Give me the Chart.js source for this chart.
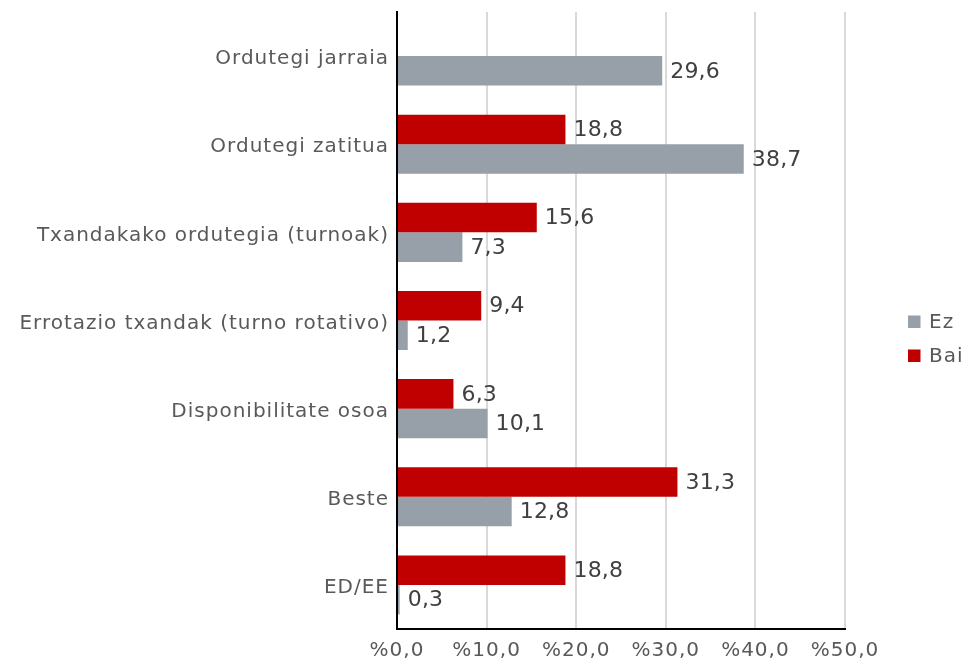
<!DOCTYPE html>
<html>
<head>
<meta charset="utf-8">
<script src="https://cdn.jsdelivr.net/npm/chart.js@4/dist/chart.umd.min.js"></script>
<style>
  html, body { margin: 0; padding: 0; background: #ffffff; }
  #wrap { width: 968px; height: 661px; }
</style>
</head>
<body>
<div id="wrap"><canvas id="c" width="968" height="661"></canvas></div>
<script>
const categories = [
  'Ordutegi jarraia',
  'Ordutegi zatitua',
  'Txandakako ordutegia (turnoak)',
  'Errotazio txandak (turno rotativo)',
  'Disponibilitate osoa',
  'Beste',
  'ED/EE'
];
const baiValues = [null, 18.8, 15.6, 9.4, 6.3, 31.3, 18.8];
const ezValues  = [29.6, 38.7, 7.3, 1.2, 10.1, 12.8, 0.3];
const xTickLabels = ['%0,0', '%10,0', '%20,0', '%30,0', '%40,0', '%50,0'];
const seriesNames = ['Bai', 'Ez'];
const legendOrder = ['Ez', 'Bai'];

const FONT = "'DejaVu Sans', sans-serif";
const RED = '#C00000';
const GRAY = '#979FA8';

function fmt(v) { return v.toFixed(1).replace('.', ','); }

function setSpacing(chart, px) {
  if ('letterSpacing' in chart.ctx) chart.ctx.letterSpacing = (px === undefined ? 1 : px) + 'px';
}

const spacingPlugin = {
  id: 'spacing',
  beforeUpdate: (c) => setSpacing(c),
  beforeLayout: (c) => setSpacing(c),
  beforeDraw: (c) => setSpacing(c)
};

const valueLabels = {
  id: 'valueLabels',
  afterDatasetsDraw(chart) {
    const ctx = chart.ctx;
    ctx.save();
    setSpacing(chart, 0.2);
    ctx.font = '22px ' + FONT;
    ctx.fillStyle = '#404040';
    ctx.textAlign = 'left';
    ctx.textBaseline = 'middle';
    chart.data.datasets.forEach((ds, di) => {
      const meta = chart.getDatasetMeta(di);
      meta.data.forEach((el, i) => {
        const v = ds.data[i];
        if (v === null || v === undefined) return;
        ctx.fillText(fmt(v), el.x + 8, el.y + 1);
      });
    });
    ctx.restore();
  }
};

const sideLegend = {
  id: 'sideLegend',
  afterDraw(chart) {
    const ctx = chart.ctx;
    const area = chart.chartArea;
    ctx.save();
    setSpacing(chart);
    ctx.font = '20px ' + FONT;
    ctx.textAlign = 'left';
    ctx.textBaseline = 'middle';
    const cy = (area.top + area.bottom) / 2;
    const x0 = area.right + 63;
    legendOrder.forEach((name, k) => {
      const ds = chart.data.datasets.find(d => d.label === name);
      const y = cy + 1 + k * 34;
      ctx.fillStyle = ds.backgroundColor;
      ctx.fillRect(x0, y - 6, 12.5, 12.5);
      ctx.fillStyle = '#595959';
      ctx.fillText(name, x0 + 21, y + 1);
    });
    ctx.restore();
  }
};

new Chart(document.getElementById('c'), {
  type: 'bar',
  data: {
    labels: categories,
    datasets: [
      { label: seriesNames[0], data: baiValues, backgroundColor: RED, borderWidth: 0 },
      { label: seriesNames[1], data: ezValues, backgroundColor: GRAY, borderWidth: 0 }
    ]
  },
  options: {
    indexAxis: 'y',
    responsive: false,
    animation: false,
    devicePixelRatio: 1,
    categoryPercentage: 0.67,
    barPercentage: 1.0,
    layout: { padding: { top: 12, right: 123, left: 0, bottom: 0 } },
    plugins: {
      legend: { display: false },
      tooltip: { enabled: false }
    },
    scales: {
      x: {
        min: 0,
        max: 50,
        ticks: {
          stepSize: 10,
          color: '#595959',
          font: { family: FONT, size: 20 },
          padding: 10,
          maxRotation: 0,
          callback: (v, i) => xTickLabels[i]
        },
        grid: { color: '#D9D9D9', lineWidth: 2, drawTicks: false },
        border: { display: true, color: '#000000', width: 2 },
        afterFit: (s) => { s.height = 32; s.paddingLeft = 0; s.paddingRight = 0; }
      },
      y: {
        ticks: {
          color: '#595959',
          font: { family: FONT, size: 20 },
          padding: 8,
          labelOffset: 3
        },
        grid: { display: false, drawTicks: false },
        border: { display: true, color: '#000000', width: 2 },
        afterFit: (s) => { s.width = 397; s.paddingTop = 0; s.paddingBottom = 0; }
      }
    }
  },
  plugins: [spacingPlugin, valueLabels, sideLegend]
});
</script>
</body>
</html>
